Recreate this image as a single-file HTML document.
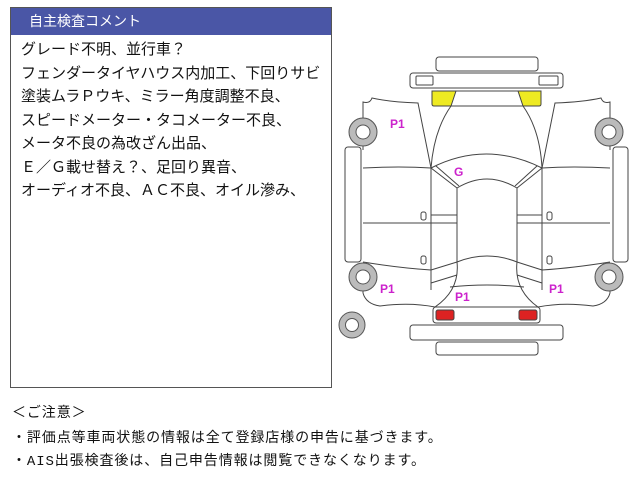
<!DOCTYPE html>
<html><head><meta charset="utf-8"><style>
body{margin:0;width:640px;height:480px;background:#fff;position:relative;overflow:hidden;font-family:"Liberation Sans","Noto Sans CJK JP",sans-serif;}
#box{position:absolute;left:10px;top:7px;width:320px;height:379px;border:1px solid #555;}
#hd{position:absolute;left:0;top:0;width:320px;height:27px;background:#4a56a6;color:#fff;font-size:14px;line-height:27px;padding-left:18px;box-sizing:border-box;}
#tx{position:absolute;left:10px;top:30px;font-size:15px;line-height:23.5px;color:#111;white-space:nowrap;}
.n{position:absolute;left:12px;font-size:14px;letter-spacing:0.9px;color:#111;white-space:nowrap;font-family:"Liberation Mono","Noto Sans CJK JP",monospace;}
svg{position:absolute;left:0;top:0;}
</style></head><body>
<div id="box"><div id="hd">自主検査コメント</div>
<div id="tx">グレード不明、並行車？<br>フェンダータイヤハウス内加工、下回りサビ<br>塗装ムラＰウキ、ミラー角度調整不良、<br>スピードメーター・タコメーター不良、<br>メータ不良の為改ざん出品、<br>Ｅ／Ｇ載せ替え？、足回り異音、<br>オーディオ不良、ＡＣ不良、オイル滲み、</div></div>
<div class="n" style="top:402px">＜ご注意＞</div>
<div class="n" style="top:427px">・評価点等車両状態の情報は全て登録店様の申告に基づきます。</div>
<div class="n" style="top:450px">・AIS出張検査後は、自己申告情報は閲覧できなくなります。</div>
<svg width="640" height="480" fill="none" stroke="#444" stroke-width="1">
<rect x="436" y="57" width="102" height="14" rx="3"/>
<rect x="410" y="73" width="153" height="15" rx="3"/>
<rect x="416" y="76" width="17" height="9" rx="1"/>
<rect x="539" y="76" width="19" height="9" rx="1"/>
<path d="M432,91 H456 L451,106 H434 Q432,106 432,104Z" fill="#eeea22"/>
<path d="M518,91 H541 V104 Q541,106 539,106 H523Z" fill="#eeea22"/>
<path d="M456,91 H518 M451,106 H523"/>
<path d="M451,106 Q434,130 431,168 M523,106 Q540,130 542,168"/>
<path d="M363,150 V102 Q370,104 372,98 Q390,102 418,103 L431,168 M363,168 Q400,166 431,168"/>
<path d="M610,150 V102 Q603,104 601,98 Q583,102 555,103 L542,168 M610,168 Q573,166 542,168"/>
<path d="M431,168 Q486,140 542,168 M431,168 L457,188 M542,168 L517,188 M436,166 L459,186 M537,166 L515,186"/>
<path d="M457,188 Q487,170 517,188 V262 Q487,250 457,262Z"/>
<path d="M431,168 V290 M542,168 V290 M363,223 H457 M517,223 H610 M431,215 H457 M517,215 H542"/>
<path d="M363,262 Q400,268 431,270 M610,262 Q573,268 542,270 M431,270 L457,262 M542,270 L517,262 M431,283 L457,275 M542,283 L517,275"/>
<path d="M457,262 Q460,290 435,307 M517,262 Q514,290 538,307 M450,287 Q487,283 524,287"/>
<path d="M363,293 Q366,304 380,306 Q410,302 435,307 M610,293 Q607,304 593,306 Q563,302 538,307 M363,285 V293 M610,285 V293"/>
<rect x="421" y="212" width="5" height="8" rx="2"/><rect x="421" y="256" width="5" height="8" rx="2"/>
<rect x="547" y="212" width="5" height="8" rx="2"/><rect x="547" y="256" width="5" height="8" rx="2"/>
<rect x="345" y="147" width="16" height="115" rx="3"/>
<rect x="613" y="147" width="15" height="115" rx="3"/>
<rect x="433" y="307" width="107" height="16" rx="3"/>
<rect x="436" y="310" width="18" height="10" rx="2" fill="#dd2222"/>
<rect x="519" y="310" width="18" height="10" rx="2" fill="#dd2222"/>
<rect x="410" y="325" width="153" height="15" rx="3"/>
<rect x="436" y="342" width="102" height="13" rx="3"/>
<g fill="#bbb" stroke="#555"><circle cx="363" cy="132" r="14"/><circle cx="609" cy="132" r="14"/><circle cx="363" cy="277" r="14"/><circle cx="609" cy="277" r="14"/><circle cx="352" cy="325" r="13"/></g>
<g fill="#fff" stroke="#555"><circle cx="363" cy="132" r="7"/><circle cx="609" cy="132" r="7"/><circle cx="363" cy="277" r="7"/><circle cx="609" cy="277" r="7"/><circle cx="352" cy="325" r="6.5"/></g>
<g fill="#cc22cc" stroke="none" font-size="12" font-weight="bold" font-family="Liberation Sans,sans-serif">
<text x="390" y="128">P1</text><text x="454" y="176">G</text><text x="380" y="293">P1</text><text x="455" y="301">P1</text><text x="549" y="293">P1</text></g>
</svg>
</body></html>
